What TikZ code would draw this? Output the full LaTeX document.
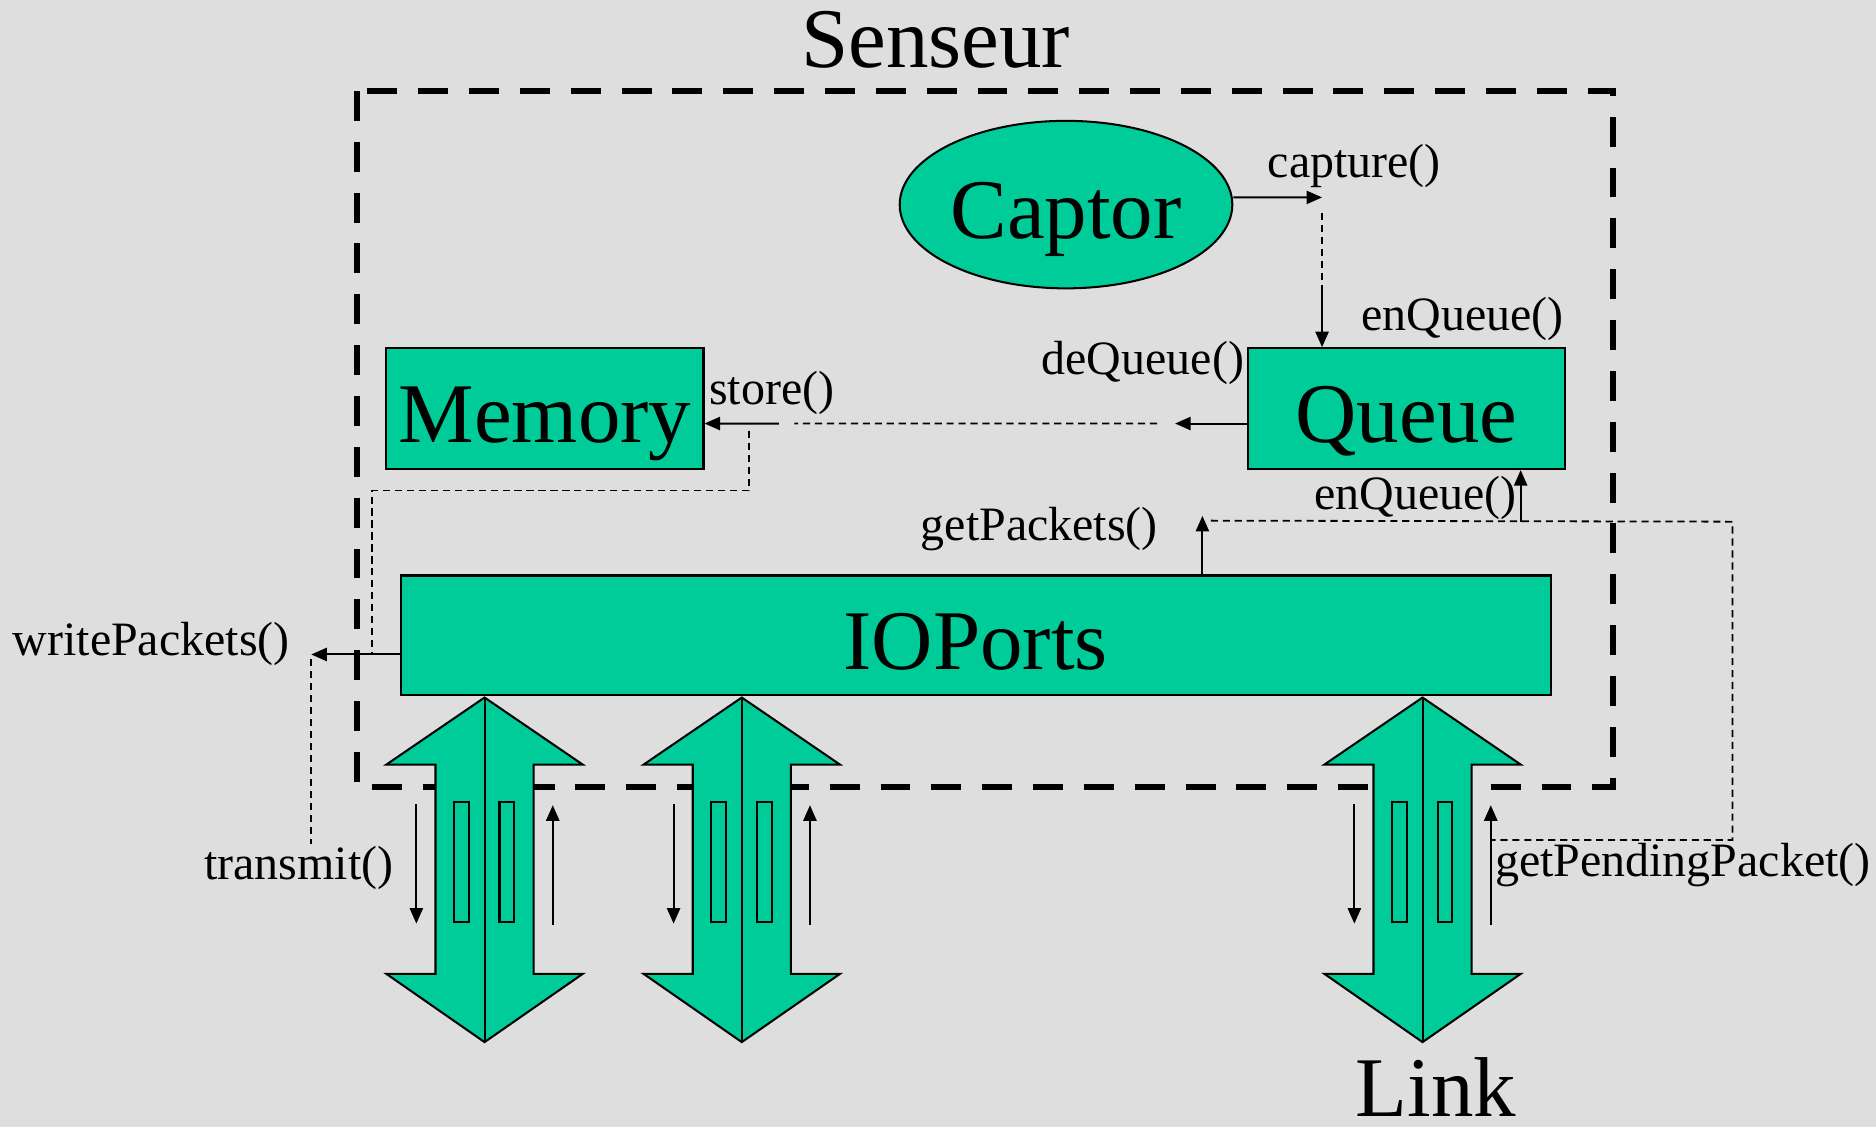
\documentclass[tikz,border=0pt]{standalone}
\usepackage{fontspec}
\setmainfont{Liberation Serif}
\usetikzlibrary{shapes.geometric}
\usetikzlibrary{positioning}
\usetikzlibrary{arrows.meta}

\definecolor{seagreen}{RGB}{0,204,153}
\definecolor{granite}{RGB}{222,222,222}

\begin{document}
\begin{tikzpicture}[x=0.1mm, y=-0.1mm,
        >={Triangle[length=1.3mm,width=1.1mm]},
        thinline/.style = {line width=0.17mm},
        box/.style = {draw,fill=seagreen,line width=0.17mm,inner sep=0pt,
            text height=5.7mm,text depth=0mm,
            font=\fontsize{20.2}{24}\selectfont},
        big/.style = {inner sep=0pt,anchor=base,font=\fontsize{20.2}{24}\selectfont},
        lbl/.style = {inner sep=0pt,anchor=base west,font=\fontsize{11.4}{13}\selectfont},
        dotline/.style = {line width=0.15mm,dash pattern=on 0.6mm off 0.4mm},
        border/.style = {line width=0.5mm,dash pattern=on 2.5mm off 1.75mm}]
    \fill[granite] (0,0) rectangle (1568,942);
    \useasboundingbox (0,0) rectangle (1568,942);
    % sensor frame
    \draw[border] (298,76) rectangle (1348,658);
    \node[big] (title) at (782,56) {Senseur};
    % components
    \node[box,ellipse,minimum width=27.8mm,minimum height=14mm] (cap) at (891,171) {Captor};
    \node[box,minimum width=26.5mm,minimum height=10.1mm] (mem) at (455.5,341.5) {Memory};
    \node[box,minimum width=26.5mm,minimum height=10.1mm] (que) at (1175.5,341.5) {Queue};
    \node[box,minimum width=96.1mm,minimum height=10mm] (io) at (815.5,531) {IOPorts};
    % ports
    \foreach \c/\n in {405/a,620/b,1189/c} {
        \draw[fill=seagreen,thinline] (\c,583) -- (\c+82,639) -- (\c+41,639) -- (\c+41,814)
            -- (\c+82,814) -- (\c,871) -- (\c-82,814) -- (\c-41,814) -- (\c-41,639)
            -- (\c-82,639) -- cycle;
        \draw[thinline] (\c,583) -- (\c,871);
        \draw[thinline] (\c-25.5,670) rectangle (\c-13,771);
        \draw[thinline] (\c+12.5,670) rectangle (\c+25,771);
        \coordinate (down\n) at (\c-57,672);
        \coordinate (up\n) at (\c+57,773);
        \draw[->,thinline] (down\n) -- ++(0,100);
        \draw[->,thinline] (up\n) -- ++(0,-100);
    }
    \node[big] (link) at (1200,933) {Link};
    % labels
    \node[lbl] (lcapture) at (1059,148) {capture()};
    \node[lbl] (lenq) at (1137,276) {enQueue()};
    \node[lbl] (ldeq) at (870,313) {deQueue()};
    \node[lbl] (lstore) at (592,338) {store()};
    \node[lbl] (lenqb) at (1098,426) {enQueue()};
    \node[lbl] (lget) at (769,452) {getPackets()};
    \node[lbl] (lwrite) at (10,548) {writePackets()};
    \node[lbl] (ltrans) at (170,735) {transmit()};
    \node[lbl] (lpend) at (1249,733) {getPendingPacket()};
    % captor to queue
    \coordinate (capto) at (1105,165);
    \draw[->,thinline] ([yshift=0.6mm]cap.east) -- (capto);
    \draw[dotline] ([yshift=-1.3mm]capto) -- (capto |- 0,243) coordinate (capdown);
    \draw[->,thinline] (capdown) -- (que.north -| capto);
    % queue to memory
    \draw[->,thinline] ([yshift=-1.25mm]que.west) -- ++(-60,0) coordinate (deq);
    \draw[dotline] ([xshift=-1.5mm]deq) -- (664,354) coordinate (sto);
    \draw[->,thinline] ([xshift=-1.3mm]sto) -- ([yshift=-1.25mm]mem.east);
    \draw[dotline] (626,360) -- (626,410) coordinate (memlink) -- (311,410) -- (311,547);
    % io ports to the left
    \draw[->,thinline] ([yshift=-1.6mm]io.west) -- ++(-74,0) coordinate (wp);
    \draw[dotline] ([yshift=-0.4mm]wp) -- ++(0,154);
    % link back to queue
    \draw[->,thinline] (io.north -| 1005,0) -- ++(0,-49) coordinate (gp);
    \draw[dotline] ([shift={(7,4)}]gp) -- (1448,436) coordinate (loop)
        -- (1448,702) -- (upc |- 0,702);
    \draw[->,thinline] (1271,436) -- (que.south -| 1271,0);
\end{tikzpicture}
\end{document}
